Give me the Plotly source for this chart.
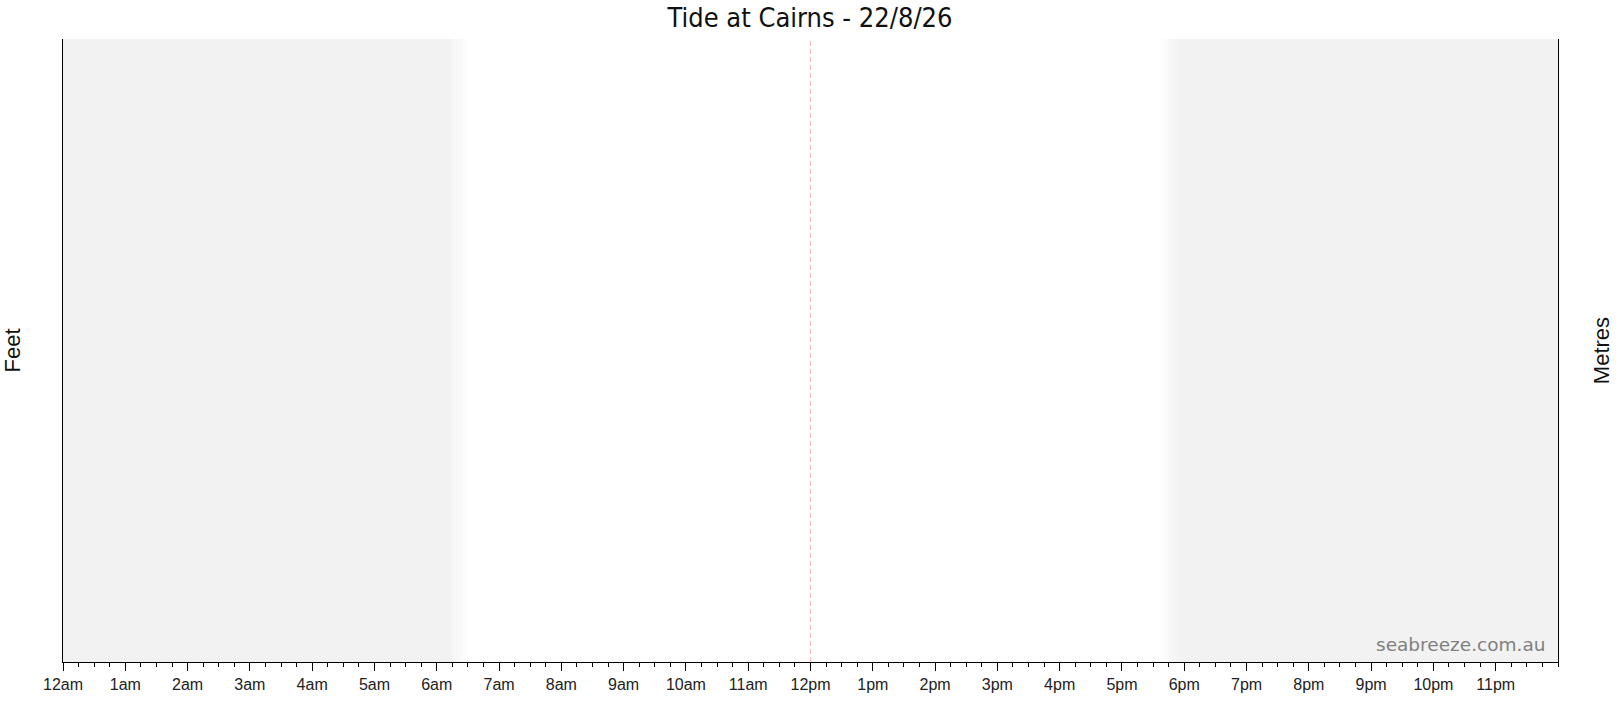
import plotly.graph_objects as go

# ---- data ----
title_text = "Tide at Cairns - 22/8/26"
hour_ticks = list(range(24))
hour_labels = ["12am", "1am", "2am", "3am", "4am", "5am", "6am", "7am", "8am", "9am", "10am", "11am",
               "12pm", "1pm", "2pm", "3pm", "4pm", "5pm", "6pm", "7pm", "8pm", "9pm", "10pm", "11pm"]
night_morning = [0.0, 6.24, 6.49]     # shade start, fade start, fade end (hours)
night_evening = [17.59, 17.89, 24.0]  # fade start, fade end, shade end (hours)
noon_marker = 12.0
x_range = [0, 24]

SHADE = "242,242,242"
shapes = []
shapes.append(dict(type="rect", xref="x", yref="paper", x0=night_morning[0], x1=night_morning[1],
                   y0=0, y1=1, fillcolor=f"rgb({SHADE})", line=dict(width=0), layer="below"))
shapes.append(dict(type="rect", xref="x", yref="paper", x0=night_evening[1], x1=night_evening[2],
                   y0=0, y1=1, fillcolor=f"rgb({SHADE})", line=dict(width=0), layer="below"))
N = 16
for i in range(N):
    a = night_morning[1] + (night_morning[2] - night_morning[1]) * i / N
    b = night_morning[1] + (night_morning[2] - night_morning[1]) * (i + 1) / N
    op = 1 - (i + 0.5) / N
    shapes.append(dict(type="rect", xref="x", yref="paper", x0=a, x1=b, y0=0, y1=1,
                       fillcolor=f"rgba({SHADE},{op:.3f})", line=dict(width=0), layer="below"))
    a2 = night_evening[0] + (night_evening[1] - night_evening[0]) * i / N
    b2 = night_evening[0] + (night_evening[1] - night_evening[0]) * (i + 1) / N
    op2 = (i + 0.5) / N
    shapes.append(dict(type="rect", xref="x", yref="paper", x0=a2, x1=b2, y0=0, y1=1,
                       fillcolor=f"rgba({SHADE},{op2:.3f})", line=dict(width=0), layer="below"))
shapes.append(dict(type="line", xref="x", yref="paper", x0=noon_marker, x1=noon_marker, y0=0, y1=1,
                   line=dict(color="rgba(225,130,130,0.55)", width=1, dash="5px,3px"), layer="below"))

fig = go.Figure()
fig.add_trace(go.Scatter(x=x_range, y=[0, 1], mode="markers", marker=dict(opacity=0),
                         hoverinfo="skip", showlegend=False))
fig.add_trace(go.Scatter(x=x_range, y=[0, 1], mode="markers", marker=dict(opacity=0),
                         hoverinfo="skip", showlegend=False, yaxis="y2"))

fig.update_layout(
    width=1620, height=709,
    margin=dict(l=62, r=60, t=39, b=47),
    paper_bgcolor="white", plot_bgcolor="white",
    title=dict(text=title_text, x=0.5, xanchor="center", y=0.975, yanchor="middle",
               font=dict(family="DejaVu Sans Condensed, DejaVu Sans", size=27, color="#111")),
    xaxis=dict(range=x_range, tickvals=hour_ticks, ticktext=hour_labels,
               showgrid=False, zeroline=False, showline=True, linecolor="#000", linewidth=1,
               ticks="outside", ticklen=8, tickcolor="#000", tickwidth=1,
               tickfont=dict(family="Liberation Sans, Arial", size=16, color="#222"),
               minor=dict(dtick=0.25, tick0=0, ticks="outside", ticklen=4, tickcolor="#000", tickwidth=1,
                          showgrid=False),
               fixedrange=True),
    yaxis=dict(range=[0, 1], showticklabels=False, ticks="", showgrid=False, zeroline=False,
               showline=True, linecolor="#000", linewidth=1, fixedrange=True,
               title=dict(text="Feet", standoff=36, font=dict(family="Liberation Sans, Arial", size=22, color="#111"))),
    yaxis2=dict(range=[0, 1], overlaying="y", side="right", showticklabels=False, ticks="",
                showgrid=False, zeroline=False, showline=True, linecolor="#000", linewidth=1, fixedrange=True,
                title=dict(text="Metres", standoff=35, font=dict(family="Liberation Sans, Arial", size=22, color="#111"))),
    shapes=shapes,
    annotations=[dict(text="seabreeze.com.au", xref="paper", yref="paper", x=0.9935, y=0.008,
                      xanchor="right", yanchor="bottom", showarrow=False,
                      font=dict(family="DejaVu Sans", size=18.5, color="#808080"))],
)

fig.write_html("out.html", config={"displayModeBar": False},
               post_script="document.body.style.margin='0px';document.body.style.overflow='hidden';")
